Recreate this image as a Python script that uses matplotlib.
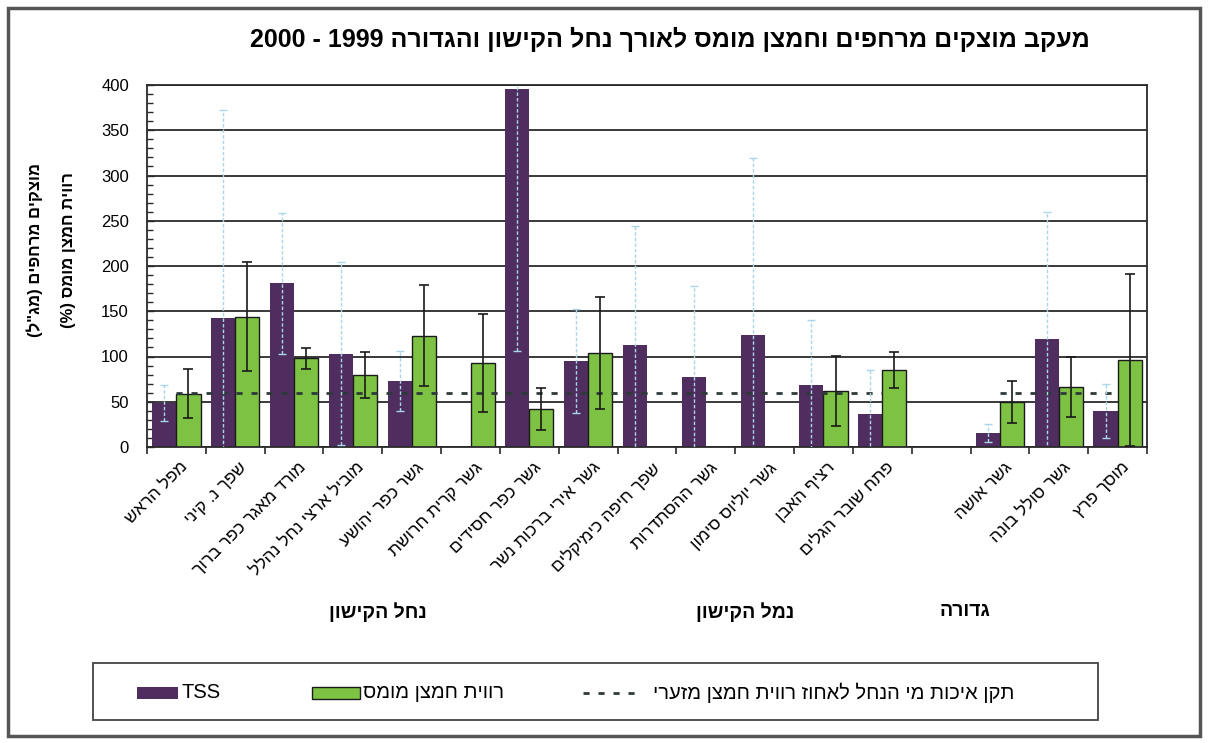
import re
import numpy as np
import matplotlib
matplotlib.use('Agg')
import matplotlib.pyplot as plt
from matplotlib.patches import Rectangle
from matplotlib.lines import Line2D
from matplotlib.ticker import MultipleLocator

plt.rcParams['font.family'] = ['Liberation Sans', 'DejaVu Sans']

# sampling stations, upstream to the sea
stations = ['מפל הראש', 'שפך נ. קיני', 'מורד מאגר כפר ברוך', 'מוביל ארצי נחל נהלל',
            'גשר כפר יהושע', 'גשר קרית חרושת', 'גשר כפר חסידים', 'גשר אירי ברכות נשר',
            'שפך חיפה כימיקלים', 'גשר ההסתדרות', 'גשר יוליוס סימון', 'רציף האבן',
            'פתח שובר הגלים', '', 'גשר אושה', 'גשר סולל בונה', 'מוסך פרץ']
groups = ['נחל הקישון', 'נמל הקישון', 'גדורה']
group_x = [378, 745, 965]

nan = np.nan
tss = [49, 142, 181, 103, 73, nan, 396, 95, 113, 77, 124, 69, 37, nan, 15, 119, 40]
tss_err = [20, 230, 78, 101, 33, nan, 290, 57, 131, 101, 195, 71, 48, nan, 10, 141, 30]
oxygen = [59, 144, 98, 80, 123, 93, 42, 104, nan, nan, nan, 62, 85, nan, 50, 66, 96]
oxygen_err = [27, 60, 11.5, 25.5, 56, 54, 23, 62, nan, nan, nan, 39, 19.5, nan, 23, 33, 95]
standard = [60, 60, 60, 60, 60, 60, 60, 60, 60, 60, 60, 60, 60, nan, 60, 60, 60]

title = 'מעקב מוצקים מרחפים וחמצן מומס לאורך נחל הקישון והגדורה 1999 - 2000'
ylabel1 = 'מוצקים מרחפים (מג"ל)'
ylabel2 = 'רווית חמצן מומס (%)'
leg_labels = ['TSS', 'רווית חמצן מומס', 'תקן איכות מי הנחל לאחוז רווית חמצן מזערי']

PURPLE = '#4f2d5e'
GREEN = '#7dc242'
STD = '#2e3a3a'
W, H = 1208, 743


def heb(s):
	'''
	logical -> visual order, matplotlib has no bidi support
	'''
	out = s[::-1]
	out = re.sub(r'[0-9A-Za-z]+', lambda m: m.group(0)[::-1], out)
	return out.translate(str.maketrans('()', ')('))


def px(x, y):
	return x / W, 1 - y / H


fig = plt.figure(figsize=(W / 100, H / 100), dpi=100)
ax = fig.add_axes([147 / W, 1 - 447 / H, 1000 / W, 362 / H])

x = np.arange(len(stations))
bw = 0.41
ax.bar(x - bw / 2, tss, bw, color=PURPLE, zorder=2)
ax.bar(x + bw / 2, oxygen, bw, color=GREEN, edgecolor='#1a1a1a', linewidth=1, zorder=2)

ax.plot(x, standard, color=STD, lw=2, dashes=(2.2, 3.2), zorder=3)

eb = ax.errorbar(x - bw / 2, tss, yerr=tss_err, fmt='none', ecolor='#a9d6e8',
				 elinewidth=1, capsize=3, capthick=1, zorder=4)
eb[2][0].set_linestyle((0, (2.5, 1.5)))
ax.errorbar(x + bw / 2, oxygen, yerr=oxygen_err, fmt='none', ecolor='#1a1a1a',
			elinewidth=1.2, capsize=3.5, capthick=1.2, zorder=4)

ax.set_xlim(-0.5, len(stations) - 0.5)
ax.set_ylim(0, 400)
ax.yaxis.set_major_locator(MultipleLocator(50))
ax.yaxis.set_minor_locator(MultipleLocator(10))
ax.grid(axis='y', which='major', color='#2a2a2a', lw=1.3, zorder=0)
ax.set_axisbelow(True)
ax.set_xticks(np.arange(-0.5, len(stations), 1))
ax.set_xticklabels([])
ax.tick_params(axis='x', direction='out', length=5, width=1.2, color='#2a2a2a')
ax.tick_params(axis='y', which='both', direction='in', width=1, color='#2a2a2a',
			   labelsize=12, pad=13)
ax.tick_params(axis='y', which='major', length=5)
ax.tick_params(axis='y', which='minor', length=4)
for s in ax.spines.values():
	s.set_color('#2a2a2a')
	s.set_linewidth(1.3)

# station names under each category
for i, name in enumerate(stations):
	if not name:
		continue
	ax.annotate(heb(name), xy=(i, 0), xycoords=('data', 'axes fraction'),
				xytext=(3, -9), textcoords='offset points', rotation=45,
				rotation_mode='anchor', ha='right', va='top', fontsize=12.5)

for g, gx in zip(groups, group_x):
	fig.text(*px(gx, 612), heb(g), ha='center', va='center', fontsize=14, fontweight='bold')

fig.text(*px(670, 39), heb(title), ha='center', va='center', fontsize=18, fontweight='bold')
fig.text(*px(35, 250), heb(ylabel1), rotation=90, ha='center', va='center',
		 fontsize=12, fontweight='bold')
fig.text(*px(68, 250), heb(ylabel2), rotation=90, ha='center', va='center',
		 fontsize=12, fontweight='bold')

# legend box, drawn in pixel coordinates
lax = fig.add_axes([0, 0, 1, 1], facecolor='none')
lax.set_xlim(0, W)
lax.set_ylim(H, 0)
lax.axis('off')
lax.add_patch(Rectangle((93, 663), 1005, 57, fill=False, ec='#444444', lw=1.3))
ly = 693
lax.add_patch(Rectangle((137, ly - 6), 41, 12, fc=PURPLE, ec='none'))
lax.text(182, ly, heb(leg_labels[0]), ha='left', va='center', fontsize=14.5)
lax.add_patch(Rectangle((312, ly - 6), 48, 12, fc=GREEN, ec='#1a1a1a', lw=1))
lax.text(363, ly, heb(leg_labels[1]), ha='left', va='center', fontsize=14.5)
lax.add_line(Line2D([583, 643], [ly, ly], color=STD, lw=2, dashes=(2.2, 3.2)))
lax.text(653, ly, heb(leg_labels[2]), ha='left', va='center', fontsize=14.5)

# outer frame
lax.add_patch(Rectangle((8, 8), 1192, 728, fill=False, ec='#555555', lw=2.5))

fig.savefig('out.png', dpi=100)
